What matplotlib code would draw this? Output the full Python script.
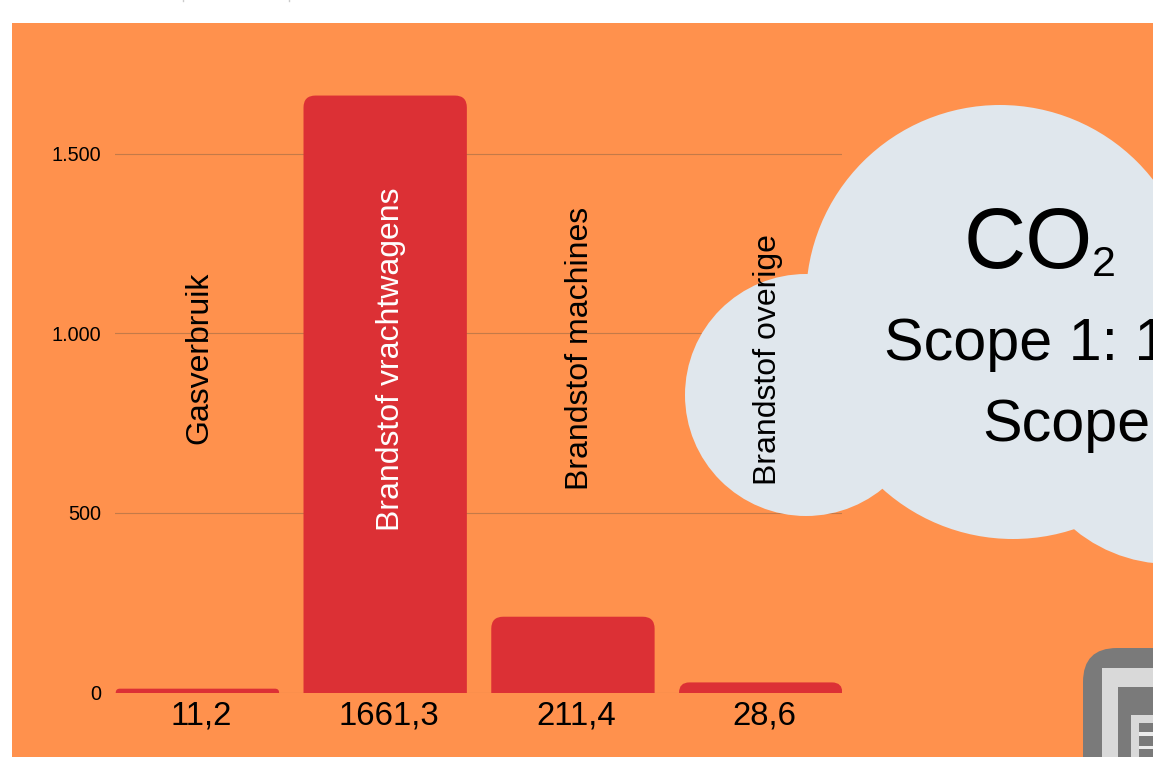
import matplotlib
matplotlib.use("Agg")
import matplotlib.pyplot as plt
from matplotlib.patches import Circle, FancyBboxPatch, Rectangle
from matplotlib.transforms import ScaledTranslation

plt.rcParams['font.family'] = ['Liberation Sans', 'DejaVu Sans']

W, H = 1153, 757

# data
categories = ["Gasverbruik", "Brandstof vrachtwagens", "Brandstof machines", "Brandstof overige"]
values = [11.2, 1661.3, 211.4, 28.6]
value_labels = ["11,2", "1661,3", "211,4", "28,6"]
y_ticks = [0, 500, 1000, 1500]
y_tick_labels = ["0", "500", "1.000", "1.500"]

ORANGE = "#ff914d"
RED = "#dc3035"
CLOUD = "#e0e7ed"
GRID = "#c47a48"
ICON_DARK = "#7a7a7a"
ICON_LIGHT = "#d9d9d9"


def pixel_axes(zorder):
    ax = fig.add_axes([0, 0, 1, 1], zorder=zorder)
    ax.set_xlim(0, W)
    ax.set_ylim(H, 0)
    ax.axis("off")
    ax.patch.set_alpha(0)
    return ax


def chart_axes(zorder):
    # plot area is x 115-842, y 46-693 in pixels
    ax = fig.add_axes([115 / W, (H - 692.7) / H, (842 - 115) / W, 647 / H], zorder=zorder)
    ax.set_xlim(-0.436, 3.436)
    ax.set_ylim(0, 1800)
    ax.patch.set_alpha(0)
    for s in ax.spines.values():
        s.set_visible(False)
    return ax


fig = plt.figure(figsize=(W / 100, H / 100), dpi=100, facecolor="white")

# background
bg = pixel_axes(0)
bg.add_patch(Rectangle((12, 23), W - 12, H - 23, color=ORANGE, lw=0))
bg.plot([183, 183], [0, 1], color="#cccccc", lw=1)
bg.plot([289, 289], [0, 1], color="#cccccc", lw=1)

# bars + grid
ax = chart_axes(1)
ax.set_axisbelow(True)
ax.yaxis.grid(True, color=GRID, lw=0.8)
ax.set_yticks(y_ticks)
ax.set_yticklabels(y_tick_labels, fontsize=14.3, color="black")
ax.set_xticks(range(len(value_labels)))
ax.set_xticklabels(value_labels, fontsize=23.7, color="black")
ax.tick_params(axis="y", length=0, pad=10)
ax.tick_params(axis="x", length=0, pad=5.5)
nudge = ScaledTranslation(4 / 100, 0, fig.dpi_scale_trans)
for lab in ax.get_xticklabels():
    lab.set_transform(lab.get_transform() + nudge)

bar_w = 0.87
px_per_x = 727 / 3.872
px_per_y = 647 / 1800
aspect = px_per_x / px_per_y
for i, v in enumerate(values):
    # box starts below the axis so only the top corners stay round
    radius = min(12, v * px_per_y) / px_per_x
    ax.add_patch(FancyBboxPatch((i + 0.003 - bar_w / 2, -100), bar_w, v + 100,
                                boxstyle=f"round,pad=0,rounding_size={radius}",
                                mutation_aspect=aspect, fc=RED, ec="none", lw=0, zorder=2))

# cloud
cl = pixel_axes(2)
for cx, cy, r in [(1000, 299, 194), (806, 395, 121), (1013, 344, 195), (1170, 414, 150), (1110, 360, 160)]:
    cl.add_patch(Circle((cx, cy), r, fc=CLOUD, ec="none", lw=0))

# icon
cl.add_patch(FancyBboxPatch((1083, 648), 150, 200, boxstyle="round,pad=0,rounding_size=34",
                            fc=ICON_DARK, ec="none", lw=0))
cl.add_patch(Rectangle((1102, 668), 100, 120, fc=ICON_LIGHT, lw=0))
cl.add_patch(Rectangle((1118, 687), 100, 100, fc=ICON_DARK, lw=0))
cl.add_patch(Rectangle((1131, 715), 60, 60, fc=ICON_LIGHT, lw=0))
cl.add_patch(Rectangle((1139, 723), 60, 60, fc=ICON_DARK, lw=0))
cl.add_patch(Rectangle((1139, 732), 60, 4, fc="#ececec", lw=0))
cl.add_patch(Rectangle((1139, 746), 60, 3, fc="#ececec", lw=0))

cl.text(964, 268, "CO", fontsize=62, ha="left", va="baseline")
cl.text(1092, 276, "2", fontsize=31, ha="left", va="baseline")
cl.text(884, 360, "Scope 1: 1", fontsize=42.7, ha="left", va="baseline")
cl.text(982, 441, "Scope", fontsize=42.7, ha="left", va="baseline")

# bar labels go over the cloud
top = chart_axes(3)
top.set_xticks([])
top.set_yticks([])
label_x = [0.012, 1.033, 2.041, 3.041]
label_y = [932, 927, 958, 927]
label_colors = ["black", "white", "black", "black"]
for i, name in enumerate(categories):
    top.text(label_x[i], label_y[i], name, rotation=90, fontsize=23, ha="center", va="center",
             color=label_colors[i], rotation_mode="anchor")

fig.savefig("out.png", dpi=100, facecolor="white")
